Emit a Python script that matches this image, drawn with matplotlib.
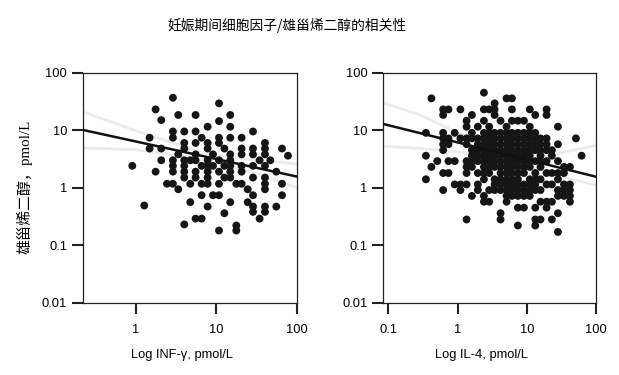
import matplotlib
matplotlib.use("Agg")
import matplotlib.pyplot as plt
import numpy as np

plt.rcParams["font.family"] = ["Liberation Sans", "Noto Sans CJK SC", "DejaVu Sans"]

# ---------------------------------------------------------------------------
# Dados (pmol/L)
# ---------------------------------------------------------------------------
# painel esquerdo: INF-γ (x) agrupado por nível de y
ifn_y_levels = [36.7, 29.3, 23.0, 18.4, 15.0, 14.4, 11.5, 9.5, 7.4, 6.0, 4.8,
                3.8, 3.6, 3.0, 2.4, 1.9, 1.5, 1.17, 0.94, 0.74, 0.56, 0.49,
                0.47, 0.38, 0.36, 0.29, 0.23, 0.22, 0.18]
ifn_x_groups = [
    [2.9],
    [10.8],
    [1.77],
    [3.38, 5.54, 14.9],
    [2.08],
    [10.8],
    [7.81, 14.9],
    [2.9, 4.01, 5.54, 28.5],
    [1.49, 2.9, 6.58, 10.8, 14.9, 20.6],
    [4.01, 5.54, 7.81, 10.8, 40.1],
    [1.49, 2.08, 4.01, 7.81, 12.6, 20.6, 28.5, 40.1, 65.2],
    [3.38, 5.54, 9.1, 14.9, 20.6, 28.5, 40.1],
    [77.3],
    [2.08, 2.9, 4.01, 4.76, 5.54, 7.81, 10.8, 14.9, 34.4, 46.7],
    [0.91, 2.9, 4.01, 6.58, 7.81, 9.1, 12.6, 14.9, 20.6, 28.5, 40.1],
    [1.77, 2.9, 4.01, 5.54, 7.81, 10.8, 14.9, 20.6, 55.4],
    [4.01, 5.54, 7.81, 12.6, 14.9, 28.5, 40.1],
    [2.45, 2.9, 4.76, 6.58, 7.81, 10.8, 17.7, 20.6, 40.1, 65.2],
    [3.38, 24.5, 40.1],
    [6.58, 9.1, 10.8, 28.5, 65.2],
    [4.76, 14.9, 24.5],
    [1.28],
    [7.81, 28.5, 40.1, 55.4],
    [28.5, 40.1],
    [12.6],
    [5.54, 6.58, 34.4],
    [4.01],
    [17.7],
    [10.8, 17.7],
]

# painel direito: IL-4 (x) com os valores de y de cada coluna
il4_x_levels = [0.35, 0.42, 0.51, 0.62, 0.74, 0.91, 1.10, 1.35, 1.61, 1.96,
                2.40, 2.86, 3.42, 4.17, 5.09, 6.08, 7.41, 9.06, 11.0, 13.2,
                15.7, 19.2, 22.9, 28.0, 34.2, 41.7, 50.9, 61.4]
il4_y_groups = [
    [9.0, 3.6, 1.4],
    [35.8, 2.3],
    [2.9],
    [23.0, 18.4, 9.0, 7.2, 5.7, 4.5, 1.8, 0.91],
    [23.0, 7.2, 5.7, 2.9, 1.8],
    [9.0, 2.9, 1.14],
    [23.0, 7.2, 1.14, 0.91],
    [14.6, 11.5, 7.2, 5.7, 2.9, 2.3, 1.8, 1.14, 0.28],
    [18.4, 9.0, 7.2, 4.5, 3.6, 2.9, 2.3, 0.72],
    [11.5, 7.2, 5.7, 4.5, 3.6, 2.9, 1.8, 1.14, 0.91],
    [44.9, 23.0, 14.6, 9.0, 7.2, 5.7, 4.5, 3.6, 2.9, 2.3, 1.8, 1.4, 0.72, 0.57],
    [23.0, 11.5, 9.0, 7.2, 5.7, 4.5, 3.6, 2.9, 2.3, 1.8, 0.91, 0.57],
    [29.3, 23.0, 18.4, 9.0, 7.2, 5.7, 4.5, 3.6, 2.9, 2.3, 1.4, 1.14, 0.91],
    [14.6, 9.0, 7.2, 5.7, 4.5, 3.6, 2.9, 2.3, 1.8, 1.4, 1.14, 0.91, 0.36, 0.28],
    [35.8, 11.5, 9.0, 7.2, 5.7, 4.5, 3.6, 2.9, 2.3, 1.8, 1.4, 1.14, 0.91, 0.72, 0.57],
    [35.8, 23.0, 14.6, 9.0, 7.2, 5.7, 4.5, 3.6, 2.9, 2.3, 1.8, 1.4, 1.14, 0.91, 0.72],
    [14.6, 9.0, 7.2, 5.7, 4.5, 3.6, 2.9, 2.3, 1.8, 1.4, 1.14, 0.91, 0.72, 0.45, 0.22],
    [14.6, 9.0, 7.2, 5.7, 4.5, 3.6, 2.9, 2.3, 1.8, 1.14, 0.91, 0.72, 0.45],
    [23.0, 11.5, 9.0, 7.2, 5.7, 4.5, 3.6, 2.9, 2.3, 1.4, 1.14, 0.91, 0.72],
    [18.4, 9.0, 7.2, 5.7, 4.5, 2.9, 1.8, 1.4, 1.14, 0.91, 0.45, 0.28, 0.22],
    [7.2, 5.7, 4.5, 3.6, 2.9, 2.3, 1.4, 0.91, 0.57, 0.28],
    [23.0, 18.4, 7.2, 5.7, 4.5, 2.9, 1.8, 1.14, 0.57, 0.45],
    [4.5, 3.6, 1.8, 1.14, 0.57, 0.28],
    [11.5, 5.7, 2.9, 1.8, 1.4, 0.91, 0.72, 0.36, 0.17],
    [2.3, 1.8, 1.14, 0.91, 0.72],
    [2.3, 1.14, 0.91, 0.72, 0.57],
    [7.2],
    [3.6],
]

# retas de regressão em log10: log y = a + b log x
ifn_fit = (0.805, -0.306)
il4_fit = (0.788, -0.299)

# faixas de confiança (cinza claro)
ifn_band_x = [0.223, 1, 7, 30, 100]
ifn_band_hi = [21, 9.8, 4.0, 3.0, 2.6]
ifn_band_lo = [4.9, 4.6, 3.1, 1.8, 1.0]
il4_band_x = [0.085, 0.3, 1, 5, 20, 100]
il4_band_hi = [30, 18, 9.0, 4.6, 3.6, 5.5]
il4_band_lo = [5.3, 4.8, 4.2, 3.2, 1.8, 1.1]

y_ticks = [0.01, 0.1, 1, 10, 100]
y_ticklabels = ["0.01", "0.1", "1", "10", "100"]
ifn_xticks = [1, 10, 100]
ifn_xticklabels = ["1", "10", "100"]
il4_xticks = [0.1, 1, 10, 100]
il4_xticklabels = ["0.1", "1", "10", "100"]

titulo = "妊娠期间细胞因子/雄甾烯二醇的相关性"
ylabel = "雄甾烯二醇，pmol/L"


def _achata(niveis, grupos):
    fixo, var = [], []
    for v, lista in zip(niveis, grupos):
        fixo.extend([v] * len(lista))
        var.extend(lista)
    return np.array(fixo), np.array(var)


def _painel(ax, x, y, fit, bx, bhi, blo, xlim, xticks, xticklabels, xlabel):
    ax.plot(bx, bhi, color="#ebebeb", lw=2.0, zorder=1)
    ax.plot(bx, blo, color="#ebebeb", lw=2.0, zorder=1)
    ax.scatter(x, y, s=32, color="#151515", edgecolors="none", zorder=2)
    xl = np.geomspace(xlim[0], xlim[1], 50)
    a, b = fit
    ax.plot(xl, 10 ** (a + b * np.log10(xl)), color="#111111", lw=1.8, zorder=3)

    ax.set_xscale("log")
    ax.set_yscale("log")
    ax.set_xlim(*xlim)
    ax.set_ylim(0.01, 100)
    ax.set_xticks(xticks)
    ax.set_xticklabels(xticklabels)
    ax.set_yticks(y_ticks)
    ax.set_yticklabels(y_ticklabels)
    ax.minorticks_off()
    ax.tick_params(axis="both", length=8, width=1.5, labelsize=9.3, color="#222222")
    ax.tick_params(axis="x", pad=7)
    ax.tick_params(axis="y", pad=3.5)
    for sp in ax.spines.values():
        sp.set_linewidth(0.9)
        sp.set_color("#222222")
    ax.set_xlabel(xlabel, fontsize=9.3)
    ax.xaxis.set_label_coords(0.463, -0.2)


fig = plt.figure(figsize=(6.19, 3.75), dpi=100)
ax1 = fig.add_axes([0.1341, 0.1928, 0.3457, 0.6133])
ax2 = fig.add_axes([0.6192, 0.1928, 0.3441, 0.6133])

ifn_y, ifn_x = _achata(ifn_y_levels, ifn_x_groups)
il4_x, il4_y = _achata(il4_x_levels, il4_y_groups)

_painel(ax1, ifn_x, ifn_y, ifn_fit, ifn_band_x, ifn_band_hi, ifn_band_lo,
        (0.223, 100), ifn_xticks, ifn_xticklabels, "Log INF-γ, pmol/L")
_painel(ax2, il4_x, il4_y, il4_fit, il4_band_x, il4_band_hi, il4_band_lo,
        (0.085, 100), il4_xticks, il4_xticklabels, "Log IL-4, pmol/L")

fig.text(0.4637, 1 - 25 / 375, titulo, ha="center", va="center",
         fontsize=9.9, family=["Noto Sans CJK SC", "DejaVu Sans"])
fig.text(25 / 619, 1 - 187 / 375, ylabel, rotation=90, ha="center", va="center",
         fontsize=10.8, family=["Liberation Serif", "Noto Sans CJK SC", "DejaVu Sans"])

fig.savefig("out.png", dpi=100)
